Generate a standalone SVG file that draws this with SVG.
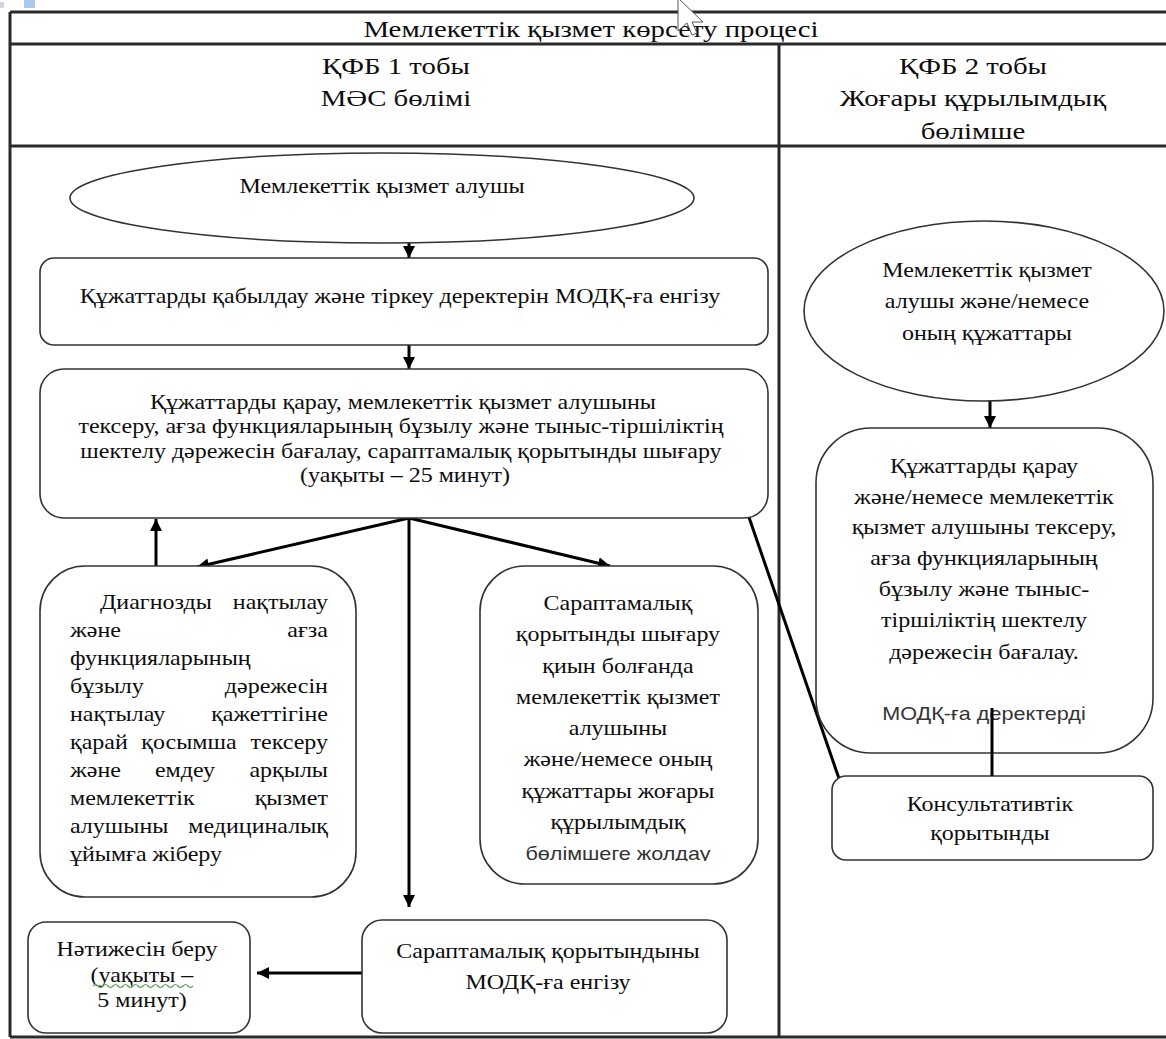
<svg xmlns="http://www.w3.org/2000/svg" width="1166" height="1039" viewBox="0 0 1166 1039">
<style>
.t{font-family:"Liberation Serif","DejaVu Serif","Times New Roman",serif;font-size:20px;fill:#0d0d0d;transform-box:fill-box;transform-origin:center;transform:scaleX(1.2);}
.st{transform-origin:left center;}
.m{text-anchor:middle;}
.e{text-anchor:end;transform-origin:right center;}
.big{font-size:24px;}
.box{fill:#fff;stroke:#333;stroke-width:1.6;}
.grid{stroke:#2a2a2a;stroke-width:3;fill:none;}
.conn{stroke:#000;stroke-width:3;fill:none;}
.arr{marker-end:url(#ah);}
</style>
<defs>
<marker id="ah" markerUnits="userSpaceOnUse" markerWidth="14" markerHeight="14" refX="12" refY="6" orient="auto">
<path d="M0,0 L12,6 L0,12 z" fill="#000"/>
</marker>
<clipPath id="clipJ"><rect x="480" y="830" width="280" height="31"/></clipPath>
</defs>
<rect width="1166" height="1039" fill="#fff"/>
<g id="artifacts">
<rect x="0" y="2" width="4" height="6" fill="#cfd6de"/>
<rect x="24" y="0" width="11" height="8" fill="#a9c8ee"/>
</g>
<g id="table">
<line class="grid" x1="10" y1="12" x2="1166" y2="12"/>
<line class="grid" x1="10" y1="44" x2="1166" y2="44"/>
<line class="grid" x1="10" y1="146" x2="1166" y2="146"/>
<line class="grid" x1="10" y1="12" x2="10" y2="1037"/>
<line class="grid" x1="10" y1="1037" x2="1166" y2="1037"/>
<line class="grid" x1="779" y1="44" x2="779" y2="1037"/>
<text class="t m big" x="591" y="37">Мемлекеттік қызмет көрсету процесі</text>
<text class="t m big" x="396" y="74">ҚФБ 1 тобы</text>
<text class="t m big" x="396" y="106">МӘС бөлімі</text>
<text class="t m big" x="973" y="74">ҚФБ 2 тобы</text>
<text class="t m big" x="973" y="106">Жоғары құрылымдық</text>
<text class="t m big" x="973" y="139">бөлімше</text>
</g>
<g id="connectors">
<line class="conn arr" x1="409" y1="236" x2="409" y2="258"/>
<line class="conn arr" x1="409" y1="345" x2="409" y2="369"/>
<line class="conn arr" x1="409" y1="518" x2="409" y2="907"/>
<line class="conn arr" x1="409" y1="518" x2="197" y2="567"/>
<line class="conn arr" x1="409" y1="518" x2="610" y2="566"/>
<line class="conn arr" x1="156" y1="567" x2="156" y2="519"/>
<line class="conn arr" x1="855" y1="825" x2="742" y2="497"/>
<line class="conn arr" x1="362" y1="973" x2="257" y2="973"/>
<line class="conn arr" x1="990" y1="380" x2="990" y2="428"/>
</g>
<g id="n1">
<ellipse class="box" cx="382" cy="198" rx="312" ry="45"/>
<text class="t m" x="382" y="193">Мемлекеттік қызмет алушы</text>
</g>
<g id="n2">
<rect class="box" x="40" y="258" width="728" height="87" rx="14"/>
<text class="t m" x="400" y="303">Құжаттарды қабылдау және тіркеу деректерін МОДҚ-ға енгізу</text>
</g>
<g id="n3">
<rect class="box" x="40" y="369" width="728" height="149" rx="24"/>
<text class="t m" x="403" y="409">Құжаттарды қарау, мемлекеттік қызмет алушыны</text>
<text class="t m" x="401" y="433">тексеру, ағза функцияларының бұзылу және тыныс-тіршіліктің</text>
<text class="t m" x="401" y="458">шектелу дәрежесін бағалау, сараптамалық қорытынды шығару</text>
<text class="t m" x="405" y="482">(уақыты – 25 минут)</text>
</g>
<g id="n4">
<rect class="box" x="40" y="566" width="316" height="331" rx="45"/>
<text class="t st" x="100" y="609">Диагнозды</text><text class="t e" x="328" y="609">нақтылау</text>
<text class="t st" x="70" y="637">және</text><text class="t e" x="328" y="637">ағза</text>
<text class="t st" x="70" y="665">функцияларының</text>
<text class="t st" x="70" y="693">бұзылу</text><text class="t e" x="328" y="693">дәрежесін</text>
<text class="t st" x="70" y="721">нақтылау</text><text class="t e" x="328" y="721">қажеттігіне</text>
<text class="t st" x="70" y="749">қарай</text><text class="t m" x="189" y="749">қосымша</text><text class="t e" x="328" y="749">тексеру</text>
<text class="t st" x="70" y="777">және</text><text class="t m" x="185" y="777">емдеу</text><text class="t e" x="328" y="777">арқылы</text>
<text class="t st" x="70" y="805">мемлекеттік</text><text class="t e" x="328" y="805">қызмет</text>
<text class="t st" x="70" y="833">алушыны</text><text class="t e" x="328" y="833">медициналық</text>
<text class="t st" x="70" y="861">ұйымға жіберу</text>
</g>
<g id="n5">
<rect class="box" x="480" y="566" width="278" height="318" rx="45"/>
<text class="t m" x="618" y="610">Сараптамалық</text>
<text class="t m" x="618" y="641">қорытынды шығару</text>
<text class="t m" x="618" y="673">қиын болғанда</text>
<text class="t m" x="618" y="704">мемлекеттік қызмет</text>
<text class="t m" x="618" y="735">алушыны</text>
<text class="t m" x="618" y="766">және/немесе оның</text>
<text class="t m" x="618" y="798">құжаттары жоғары</text>
<text class="t m" x="618" y="829">құрылымдық</text>
<g clip-path="url(#clipJ)"><text class="t m" x="618" y="860" style="font-family:'Liberation Sans','DejaVu Sans',sans-serif;font-size:18px;fill:#333">бөлімшеге жолдау</text></g>
</g>
<g id="n6">
<rect class="box" x="28" y="922" width="222" height="111" rx="18"/>
<text class="t m" x="137" y="956">Нәтижесін беру</text>
<text class="t m" x="142" y="982">(уақыты –</text>
<path d="M93,986 q2.5,-3 5,0 t5,0 t5,0 t5,0 t5,0 t5,0 t5,0 t5,0 t5,0 t5,0 t5,0 t5,0 t5,0 t5,0 t5,0 t5,0 t5,0 t5,0 t5,0 t5,0" fill="none" stroke="#5aa05a" stroke-width="1.2"/>
<text class="t m" x="142" y="1007">5 минут)</text>
</g>
<g id="n7">
<rect class="box" x="362" y="920" width="365" height="113" rx="20"/>
<text class="t m" x="548" y="958">Сараптамалық қорытындыны</text>
<text class="t m" x="548" y="989">МОДҚ-ға енгізу</text>
</g>
<g id="n8">
<ellipse class="box" cx="984" cy="311" rx="180" ry="90"/>
<text class="t m" x="987" y="277">Мемлекеттік қызмет</text>
<text class="t m" x="987" y="308">алушы және/немесе</text>
<text class="t m" x="987" y="340">оның құжаттары</text>
</g>
<g id="n9">
<rect class="box" x="816" y="428" width="337" height="325" rx="55"/>
<text class="t m" x="984" y="473">Құжаттарды қарау</text>
<text class="t m" x="984" y="504">және/немесе мемлекеттік</text>
<text class="t m" x="984" y="534">қызмет алушыны тексеру,</text>
<text class="t m" x="984" y="565">ағза функцияларының</text>
<text class="t m" x="984" y="596">бұзылу және тыныс-</text>
<text class="t m" x="984" y="627">тіршіліктің шектелу</text>
<text class="t m" x="984" y="659">дәрежесін бағалау.</text>
<text class="t m" x="984" y="720" style="font-family:'Liberation Sans','DejaVu Sans',sans-serif;font-size:18px;fill:#333">МОДҚ-ға деректерді</text>
</g>
<g id="n10">
<rect class="box" x="832" y="776" width="321" height="84" rx="14"/>
<text class="t m" x="990" y="811">Консультативтік</text>
<text class="t m" x="990" y="840">қорытынды</text>
</g>
<g id="connectors2">
<line class="conn" x1="992" y1="708" x2="992" y2="776"/>
</g>
<g id="cursor">
<polygon points="678,-2 678,31 687,23 692,35 697,33 692,22 703,22" fill="#fff" stroke="#555" stroke-width="1"/>
</g>
</svg>
